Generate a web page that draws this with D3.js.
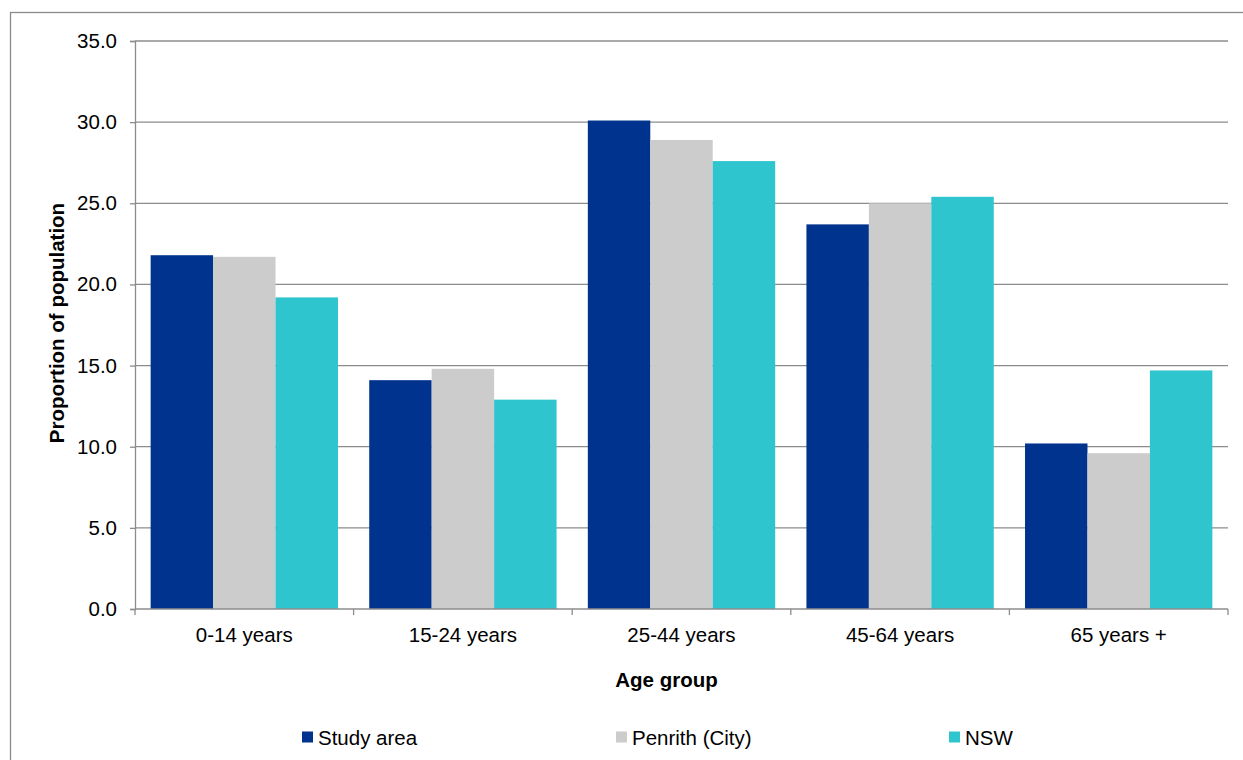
<!DOCTYPE html>
<html>
<head>
<meta charset="utf-8">
<script src="https://cdn.jsdelivr.net/npm/d3@7/dist/d3.min.js"></script>
<style>
  html, body { margin: 0; padding: 0; background: #fff; }
  svg { display: block; font-family: "Liberation Sans", Arial, sans-serif; }
</style>
</head>
<body>
<svg id="chart" width="1243" height="760"></svg>
<script>
// Age-group distribution, percent of population
const ageGroups = ["0-14 years", "15-24 years", "25-44 years", "45-64 years", "65 years +"];
const seriesNames = ["Study area", "Penrith (City)", "NSW"];
const studyArea = [21.8, 14.1, 30.1, 23.7, 10.2];
const penrith   = [21.7, 14.8, 28.9, 25.0, 9.6];
const nsw       = [19.2, 12.9, 27.6, 25.4, 14.7];
const yTicks    = [0, 5, 10, 15, 20, 25, 30, 35];
const seriesColors = ["#00338d", "#cccccc", "#2ec5ce"];

const seriesValues = [studyArea, penrith, nsw];
const rows = ageGroups.map((g, i) => ({
  group: g,
  values: seriesNames.map((s, k) => ({ series: s, value: seriesValues[k][i] }))
}));

const svg = d3.select("#chart");
const plot = { left: 135, right: 1228, top: 41, bottom: 609 };
const gridColor = "#8c8c8c";

// outer chart frame
svg.append("rect")
  .attr("x", 10.5).attr("y", 12.5)
  .attr("width", 1400).attr("height", 900)
  .attr("fill", "none").attr("stroke", "#8c8c8c").attr("stroke-width", 1.3);

const x0 = d3.scaleBand().domain(ageGroups)
  .range([plot.left, plot.right]).paddingInner(0.143).paddingOuter(0.0715);
const x1 = d3.scaleBand().domain(seriesNames).range([0, x0.bandwidth()]);
const y = d3.scaleLinear().domain([0, 35]).range([plot.bottom, plot.top]);
const color = d3.scaleOrdinal().domain(seriesNames).range(seriesColors);

// horizontal gridlines
svg.append("g").selectAll("line").data(yTicks.filter(t => t > 0)).join("line")
  .attr("x1", plot.left).attr("x2", plot.right)
  .attr("y1", d => y(d)).attr("y2", d => y(d))
  .attr("stroke", gridColor).attr("stroke-width", 1.3);

// bars
svg.append("g").selectAll("g").data(rows).join("g")
  .attr("transform", d => `translate(${x0(d.group)},0)`)
  .selectAll("rect").data(d => d.values).join("rect")
  .attr("x", d => x1(d.series))
  .attr("width", x1.bandwidth())
  .attr("y", d => y(d.value))
  .attr("height", d => y(0) - y(d.value))
  .attr("fill", d => color(d.series));

// y axis
const yAxis = svg.append("g")
  .attr("transform", `translate(${plot.left},0)`)
  .call(d3.axisLeft(y).tickValues(yTicks).tickFormat(d3.format(".1f")).tickSize(5).tickPadding(13));
yAxis.select(".domain").attr("stroke", gridColor).attr("stroke-width", 1.3);
yAxis.selectAll(".tick line").attr("stroke", gridColor).attr("stroke-width", 1.3);
yAxis.selectAll(".tick text").attr("font-size", 20.5).attr("fill", "#000")
  .attr("font-family", "Liberation Sans, Arial, sans-serif");

// x axis with ticks at category boundaries
const xAxisG = svg.append("g").attr("transform", `translate(0,${plot.bottom})`);
xAxisG.append("line")
  .attr("x1", plot.left).attr("x2", plot.right)
  .attr("stroke", gridColor).attr("stroke-width", 1.3);
const step = x0.step();
const boundaries = d3.range(ageGroups.length + 1).map(i => plot.left + i * step);
xAxisG.selectAll("line.tk").data(boundaries).join("line").attr("class", "tk")
  .attr("x1", d => d).attr("x2", d => d).attr("y1", 0).attr("y2", 6)
  .attr("stroke", gridColor).attr("stroke-width", 1.3);
xAxisG.selectAll("text").data(ageGroups).join("text")
  .attr("x", d => plot.left + ageGroups.indexOf(d) * step + step / 2)
  .attr("y", 33)
  .attr("text-anchor", "middle")
  .attr("font-size", 20.5).attr("fill", "#000")
  .text(d => d);

// axis titles
svg.append("text")
  .attr("x", (plot.left + plot.right) / 2 - 15).attr("y", 687)
  .attr("text-anchor", "middle").attr("font-weight", "bold")
  .attr("font-size", 20.5).attr("fill", "#000")
  .text("Age group");

svg.append("text")
  .attr("transform", "translate(64,323) rotate(-90)")
  .attr("text-anchor", "middle").attr("font-weight", "bold")
  .attr("font-size", 20.5).attr("fill", "#000")
  .text("Proportion of population");

// legend
const legendX = [302, 616, 949];
const legend = svg.append("g").selectAll("g").data(seriesNames).join("g")
  .attr("transform", (d, i) => `translate(${legendX[i]},737)`);
legend.append("rect")
  .attr("x", 0).attr("y", -5.5).attr("width", 11).attr("height", 11)
  .attr("fill", d => color(d));
legend.append("text")
  .attr("x", 16).attr("y", 7.5)
  .attr("font-size", 20.5).attr("fill", "#000")
  .text(d => d);
</script>
</body>
</html>
